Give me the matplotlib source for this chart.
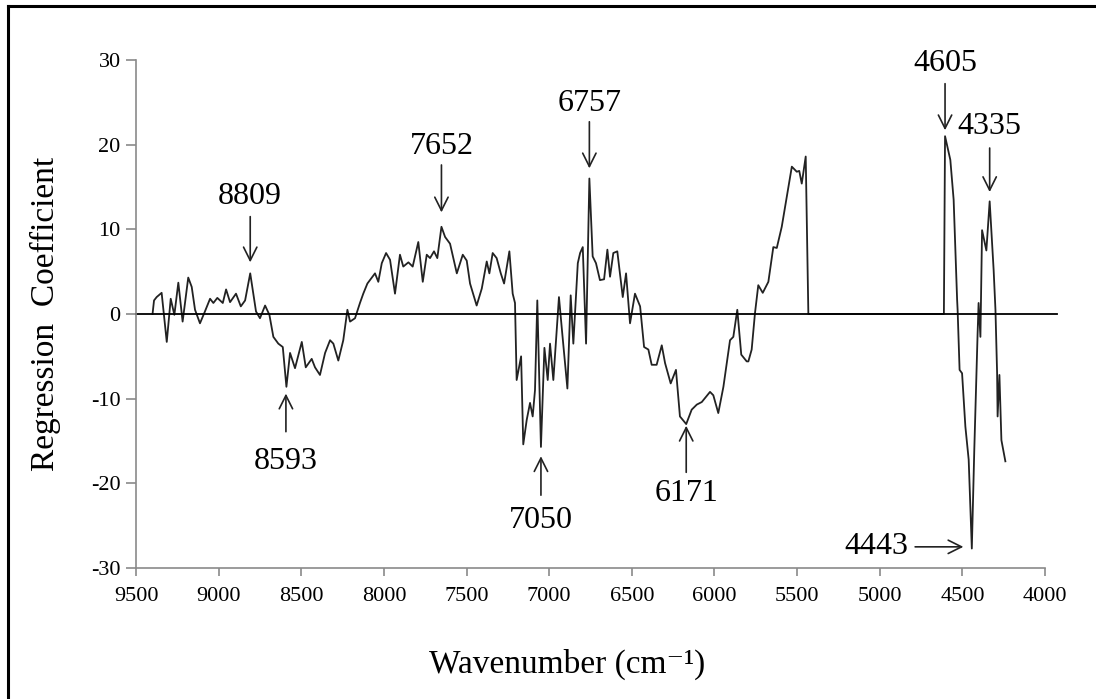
import matplotlib.pyplot as plt
from matplotlib.lines import Line2D

plt.rcParams['font.family'] = ['Liberation Serif', 'DejaVu Serif']
plt.rcParams['axes.unicode_minus'] = False

# regression coefficient (wavenumber in cm-1)
wavenumber = [9400, 9391, 9375, 9345, 9314, 9290, 9268, 9244, 9218, 9184, 9163, 9143,
              9113, 9083, 9052, 9032, 9008, 8975, 8955, 8931, 8895, 8866, 8840, 8809,
              8774, 8750, 8719, 8693, 8669, 8639, 8612, 8590, 8568, 8538, 8497, 8473,
              8437, 8417, 8387, 8356, 8326, 8306, 8276, 8246, 8221, 8205, 8175, 8145,
              8125, 8100, 8054, 8034, 8013, 7987, 7963, 7933, 7903, 7883, 7852, 7826,
              7792, 7765, 7741, 7721, 7697, 7677, 7652, 7630, 7600, 7559, 7523, 7499,
              7479, 7439, 7408, 7378, 7362, 7342, 7318, 7293, 7273, 7241, 7221, 7207,
              7197, 7170, 7157, 7136, 7116, 7100, 7086, 7072, 7050, 7029, 7009, 6995,
              6975, 6941, 6921, 6890, 6870, 6854, 6827, 6813, 6797, 6777, 6757, 6737,
              6717, 6693, 6668, 6648, 6632, 6612, 6588, 6555, 6535, 6511, 6481, 6450,
              6426, 6400, 6380, 6350, 6319, 6299, 6265, 6233, 6209, 6171, 6138, 6107,
              6077, 6027, 6007, 5977, 5946, 5906, 5886, 5862, 5838, 5805, 5795, 5775,
              5755, 5735, 5708, 5674, 5644, 5623, 5593, 5563, 5532, 5502, 5487, 5472,
              5448, 5432, 4612, 4605, 4573, 4553, 4532, 4529, 4517, 4502, 4482, 4462,
              4443, 4428, 4408, 4402, 4391, 4381, 4355, 4335, 4311, 4300, 4290, 4287,
              4276, 4264, 4240]
coef = [0.0, 1.6, 2.0, 2.5, -3.3, 1.8, -0.1, 3.7, -0.9, 4.3, 3.2, 0.5,
        -1.1, 0.3, 1.8, 1.3, 1.9, 1.3, 2.9, 1.4, 2.4, 0.9, 1.6, 4.8,
        0.3, -0.5, 1.0, -0.1, -2.7, -3.5, -3.9, -8.6, -4.6, -6.4, -3.3, -6.3,
        -5.3, -6.3, -7.2, -4.6, -3.1, -3.5, -5.5, -3.1, 0.5, -0.9, -0.5, 1.3,
        2.4, 3.6, 4.8, 3.8, 6.0, 7.2, 6.4, 2.4, 7.0, 5.6, 6.1, 5.6,
        8.5, 3.8, 7.0, 6.6, 7.4, 6.6, 10.3, 9.1, 8.3, 4.8, 7.0, 6.3,
        3.6, 1.0, 3.0, 6.2, 4.8, 7.2, 6.6, 4.8, 3.6, 7.4, 2.4, 1.3,
        -7.8, -5.0, -15.4, -12.5, -10.5, -12.1, -9.0, 1.6, -15.7, -4.0, -7.8, -3.5,
        -7.8, 2.0, -2.3, -8.8, 2.2, -3.5, 6.0, 7.2, 7.9, -3.5, 16.0, 6.8,
        6.0, 4.0, 4.1, 7.6, 4.4, 7.2, 7.4, 2.0, 4.8, -1.1, 2.4, 0.9,
        -3.9, -4.2, -6.0, -6.0, -3.7, -5.8, -8.2, -6.6, -12.1, -13.0, -11.3, -10.7,
        -10.4, -9.2, -9.6, -11.7, -8.6, -3.1, -2.7, 0.5, -4.8, -5.6, -5.6, -4.2,
        0.1, 3.4, 2.5, 3.8, 7.9, 7.8, 10.3, 13.8, 17.4, 16.8, 16.9, 15.4,
        18.6, 0.0, 0.0, 21.0, 18.2, 13.5, 1.7, 0.5, -6.6, -7.0, -13.3, -17.2,
        -27.7, -16.0, -2.3, 1.3, -2.7, 9.9, 7.5, 13.3, 5.2, 0.5, -7.0, -12.1,
        -7.2, -14.9, -17.4]

# peak labels: wavenumber, arrow tip y, arrow tail y, text y
peaks = [(8809, 6.1, 11.5, 13.9),
         (8593, -9.4, -13.9, -17.4),
         (7652, 12.0, 17.6, 19.8),
         (7050, -16.8, -21.4, -24.4),
         (6757, 17.2, 22.7, 24.9),
         (6171, -13.2, -18.7, -21.2),
         (4605, 21.7, 27.2, 29.6),
         (4335, 14.4, 19.6, 22.1)]

fig = plt.figure(figsize=(10.96, 6.99), dpi=100)
ax = fig.add_axes([0.1241, 0.1874, 0.8294, 0.7268])

ax.plot(wavenumber, coef, color='#222222', lw=1.3)
ax.plot([0, 1.013], [0, 0], color='black', lw=1.3,
        transform=ax.get_yaxis_transform(), clip_on=False)

ax.set_xlim(9500, 4000)
ax.set_ylim(-30, 30)
ax.set_xticks(range(9500, 3999, -500))
ax.set_yticks(range(-30, 31, 10))

for s in ['top', 'right']:
    ax.spines[s].set_visible(False)
for s in ['left', 'bottom']:
    ax.spines[s].set_color('#8a8a8a')
    ax.spines[s].set_linewidth(1.2)
ax.tick_params(axis='y', direction='out', length=7, width=1.2, color='#8a8a8a',
               labelsize=16, pad=4)
ax.tick_params(axis='x', direction='out', length=6, width=1.2, color='#8a8a8a',
               labelsize=16, pad=8)

ax.set_ylabel('Regression  Coefficient', fontsize=24)
ax.yaxis.set_label_coords(-0.083, 0.5)
ax.set_xlabel('Wavenumber (cm\u207b\u00b9)', fontsize=24)
ax.xaxis.set_label_coords(0.474, -0.158)

arrow = dict(arrowstyle='->', lw=1.2, color='#222222', mutation_scale=24,
             shrinkA=0, shrinkB=0)
for wn, tip, tail, ty in peaks:
    ax.annotate('', xy=(wn, tip), xytext=(wn, tail), arrowprops=arrow)
    ax.text(wn, ty, str(wn), ha='center', va='center', fontsize=23)

ax.annotate('', xy=(4494, -27.5), xytext=(4786, -27.5), arrowprops=arrow,
            annotation_clip=False)
ax.text(4825, -27.5, '4443', ha='right', va='center', fontsize=23)

# outer frame, only its top and left edges fall inside the picture
x0, y1 = 0.0073, 0.9914
fig.add_artist(Line2D([x0, 1.0], [y1, y1], transform=fig.transFigure,
                      color='black', lw=2.2))
fig.add_artist(Line2D([x0, x0], [0.0, y1], transform=fig.transFigure,
                      color='black', lw=2.2))

fig.savefig('out.png', dpi=100)
